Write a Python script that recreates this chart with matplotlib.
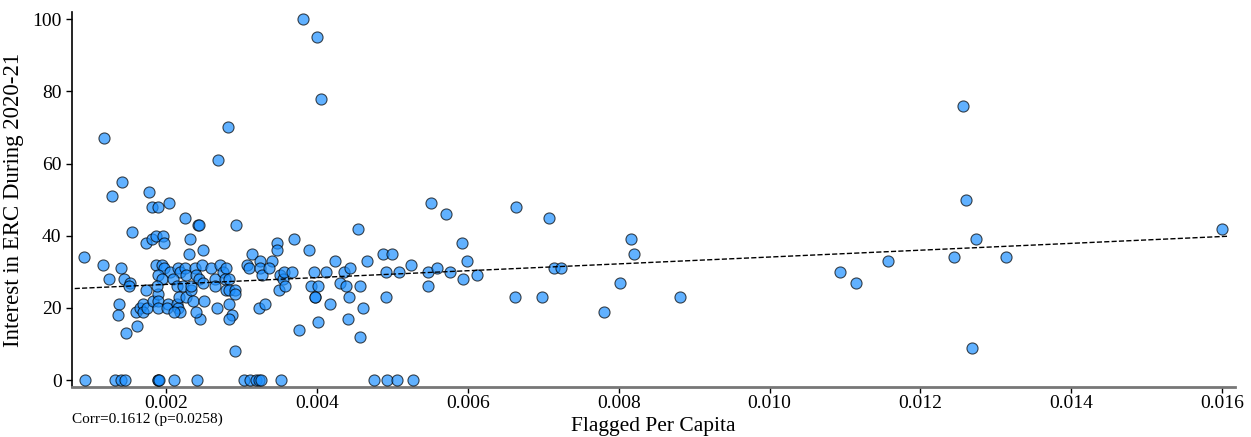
import numpy as np
import matplotlib
matplotlib.use("Agg")
import matplotlib.pyplot as plt

# Flagged per capita (x) and Interest in ERC (y)
flagged_zero = [0.00092, 0.00133, 0.00141, 0.00145, 0.00189, 0.00190, 0.00191, 0.00210,
                0.00241, 0.00304, 0.00311, 0.00319, 0.00323, 0.00326, 0.00353, 0.00476,
                0.00493, 0.00506, 0.00528]
interest_zero = [0] * len(flagged_zero)

flagged = [
    0.00381, 0.00400, 0.00405, 0.00118, 0.00282, 0.00269, 0.00091, 0.00117, 0.00124, 0.00128,
    0.00142, 0.00141, 0.00144, 0.00138, 0.00136, 0.00147, 0.00152, 0.00151, 0.00155, 0.00161,
    0.00160, 0.00166, 0.00169, 0.00170, 0.00175, 0.00174, 0.00173, 0.00178, 0.00181, 0.00189,
    0.00182, 0.00187, 0.00196, 0.00197, 0.00204, 0.00183, 0.00189, 0.00190, 0.00189, 0.00187,
    0.00195, 0.00198, 0.00205, 0.00216, 0.00219, 0.00225, 0.00189, 0.00195, 0.00188, 0.00202,
    0.00201, 0.00214, 0.00216, 0.00219, 0.00211, 0.00209, 0.00214, 0.00222, 0.00226, 0.00217,
    0.00226, 0.00233, 0.00236, 0.00225, 0.00242, 0.00244, 0.00232, 0.00249, 0.00231, 0.00239,
    0.00248, 0.00240, 0.00244, 0.00249, 0.00233, 0.00251, 0.00245, 0.00240, 0.00260, 0.00265,
    0.00265, 0.00267, 0.00272, 0.00276, 0.00280, 0.00278, 0.00283, 0.00279, 0.00284, 0.00292,
    0.00292, 0.00283, 0.00288, 0.00284, 0.00292, 0.00293, 0.00307, 0.00310, 0.00314, 0.00325,
    0.00325, 0.00327, 0.00341, 0.00336, 0.00347, 0.00347, 0.00351, 0.00355, 0.00356, 0.00350,
    0.00358, 0.00367, 0.00370, 0.00323, 0.00331, 0.00376, 0.00390, 0.00396, 0.00412, 0.00392,
    0.00401, 0.00397, 0.00397, 0.00401, 0.00418, 0.00424, 0.00436, 0.00444, 0.00431, 0.00439,
    0.00443, 0.00441, 0.00455, 0.00457, 0.00457, 0.00461, 0.00466, 0.00487, 0.00500, 0.00492,
    0.00492, 0.00509, 0.00525, 0.00547, 0.00547, 0.00551, 0.00559, 0.00571, 0.00577, 0.00593,
    0.00594, 0.00599, 0.00612, 0.00664, 0.00663, 0.00698, 0.00708, 0.00714, 0.00723, 0.00780,
    0.00802, 0.00817, 0.00820, 0.00881, 0.01093, 0.01114, 0.01157, 0.01256, 0.01260, 0.01274,
    0.01244, 0.01313, 0.01269, 0.01600,
]
interest = [
    100, 95, 78, 67, 70, 61, 34, 32, 28, 51,
    55, 31, 28, 21, 18, 13, 27, 26, 41, 15,
    19, 20, 21, 19, 20, 25, 38, 52, 48, 48,
    39, 40, 40, 38, 49, 22, 24, 22, 20, 32,
    32, 31, 30, 31, 30, 31, 29, 28, 26, 21,
    20, 21, 20, 19, 19, 28, 26, 26, 29, 23,
    23, 25, 22, 45, 43, 43, 39, 36, 35, 31,
    32, 29, 28, 27, 26, 22, 17, 19, 31, 28,
    26, 20, 32, 30, 31, 28, 28, 25, 25, 25,
    24, 21, 18, 17, 8, 43, 32, 31, 35, 33,
    31, 29, 33, 31, 38, 36, 29, 28, 30, 25,
    26, 30, 39, 20, 21, 14, 36, 30, 30, 26,
    26, 23, 23, 16, 21, 33, 30, 31, 27, 26,
    23, 17, 42, 26, 12, 20, 33, 35, 35, 30,
    23, 30, 32, 30, 26, 49, 31, 46, 30, 38,
    28, 33, 29, 48, 23, 23, 45, 31, 31, 19,
    27, 39, 35, 23, 30, 27, 33, 76, 50, 39,
    34, 34, 9, 42,
]

x_all = np.array(flagged + flagged_zero)
y_all = np.array(interest + interest_zero, dtype=float)

corr_text = "Corr=0.1612 (p=0.0258)"

plt.rcParams['font.family'] = ['Liberation Serif', 'DejaVu Serif']

fig = plt.figure(figsize=(12.51, 4.37), dpi=100)
ax = fig.add_axes([72/1251, 1-387/437, (1235-72)/1251, (387-12)/437])

ax.scatter(x_all, y_all, s=64, color='dodgerblue', alpha=0.7,
           edgecolor='black', linewidth=0.8, zorder=3)

slope, intercept = np.polyfit(x_all, y_all, 1)
xl = np.array([x_all.min() - 0.00012, x_all.max() + 0.00008])
ax.plot(xl, slope*xl + intercept, color='black', ls='--', lw=1.0, zorder=4)

ax.set_xlim(0.000754, 0.01617)
ax.set_ylim(-1.9, 102)
ax.set_xticks([0.002, 0.004, 0.006, 0.008, 0.010, 0.012, 0.014, 0.016])
ax.set_xticklabels(['0.002', '0.004', '0.006', '0.008', '0.010', '0.012', '0.014', '0.016'])
ax.set_yticks([0, 20, 40, 60, 80, 100])
ax.tick_params(labelsize=14, length=4, width=1)
ax.tick_params(axis='x', pad=2)

for s in ['top', 'right']:
    ax.spines[s].set_visible(False)
ax.spines['bottom'].set_color('#777777')
ax.spines['bottom'].set_linewidth(2)
ax.spines['left'].set_linewidth(1.2)

ax.set_xlabel('Flagged Per Capita', fontsize=15.5, labelpad=3)
ax.set_ylabel('Interest in ERC During 2020-21', fontsize=16.5, labelpad=6)

fig.text(72/1251, 1-419/437, corr_text, fontsize=11, ha='left', va='center')

fig.savefig('out.png', dpi=100)
